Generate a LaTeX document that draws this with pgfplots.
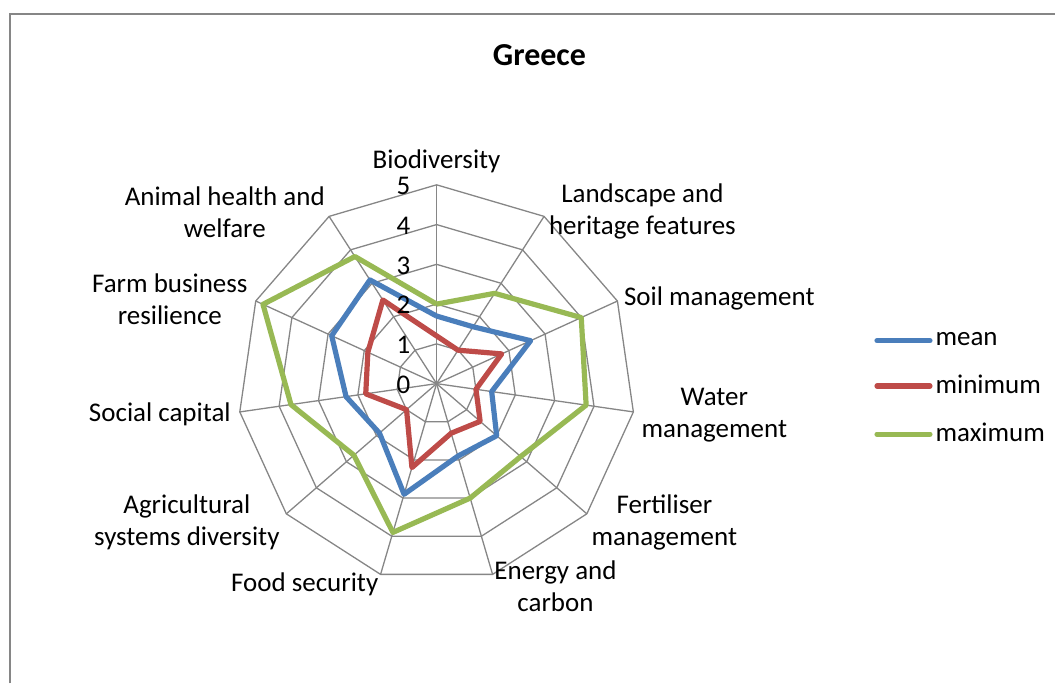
\documentclass[border=0pt]{standalone}
\usepackage{pgfplots}
\pgfplotsset{compat=1.18}
\usepgfplotslibrary{polar}
\usepackage{pgfplotstable}
\usepackage{fontspec}
\setmainfont{Carlito}
\definecolor{cmean}{RGB}{74,126,187}
\definecolor{cmin}{RGB}{190,75,72}
\definecolor{cmax}{RGB}{152,185,84}
\definecolor{cgrid}{RGB}{134,134,134}

\pgfplotstableread{
angle mean min max
90 1.7 1.2 2.0
57.2727 1.7 1.0 2.7
24.5455 2.6 1.8 4.0
351.8182 1.4 1.0 3.8
319.0909 2.0 1.45 2.8
286.3636 1.9 1.3 3.0
253.6364 2.9 2.2 3.9
220.9091 1.9 1.0 2.75
188.1818 2.3 1.8 3.7
155.4545 2.9 1.9 4.8
122.7273 3.1 2.5 3.8
90 1.7 1.2 2.0
}\datatable

\begin{document}
\begin{tikzpicture}[x=0.5pt,y=0.5pt]
\fontsize{13.5}{16}\selectfont
\path (0,0) rectangle (1056,684);
\coordinate (C) at (437,300);
\draw[cgrid, line width=1pt] (10,0) -- (10,670) -- (1056,670);
\node[font=\fontsize{16}{19}\selectfont\bfseries] at (540,629) {Greece};
\begin{polaraxis}[
  at={(C)}, anchor=origin,
  width=199pt, height=199pt, scale only axis,
  ymin=0, ymax=5, xmin=0, xmax=360,
  hide axis, clip=false,
  legend cell align=left,
  legend image code/.code={\draw[#1, line cap=round] (0pt,0pt) -- (26.5pt,0pt);},
  legend style={at={(1.585,0.487)}, anchor=west, draw=none, fill=none,
    font=\fontsize{13.5}{16}\selectfont, row sep=10.75pt,
    nodes={inner xsep=1.5pt, inner ysep=1pt}},
]
\pgfplotsinvokeforeach{1,2,3,4,5}{
 \addplot[cgrid, line width=0.65pt, forget plot] coordinates {(90,#1) (57.2727,#1) (24.5455,#1) (351.8182,#1) (319.0909,#1) (286.3636,#1) (253.6364,#1) (220.9091,#1) (188.1818,#1) (155.4545,#1) (122.7273,#1) (90,#1)};
}
\pgfplotsinvokeforeach{90,57.2727,24.5455,351.8182,319.0909,286.3636,253.6364,220.9091,188.1818,155.4545,122.7273}{
 \addplot[cgrid, line width=0.65pt, forget plot] coordinates {(#1,0) (#1,5)};
}
\addplot[cmean, line width=2.6pt, line join=round, mark=none] table[x=angle,y=mean]{\datatable};
\addlegendentry{mean}
\addplot[cmin, line width=2.6pt, line join=round, mark=none] table[x=angle,y=min]{\datatable};
\addlegendentry{minimum}
\addplot[cmax, line width=2.6pt, line join=round, mark=none] table[x=angle,y=max]{\datatable};
\addlegendentry{maximum}
\end{polaraxis}
\foreach \k in {0,...,5} \node[anchor=east, inner sep=0pt] at (411, 299+39.8*\k) {\k};
\node[align=center] at (437,523) {Biodiversity};
\node[align=center] at (643,472) {Landscape and\\heritage features};
\node at (720,385) {Soil management};
\node[align=center] at (715,268) {Water\\management};
\node[align=center] at (665,161) {Fertiliser\\management};
\node[align=center] at (556,97) {Energy and\\carbon};
\node at (305,99) {Food security};
\node[align=center] at (187,161) {Agricultural\\systems diversity};
\node at (160,269) {Social capital};
\node[align=center] at (170,384) {Farm business\\resilience};
\node[align=center] at (225,472) {Animal health and\\welfare};
\end{tikzpicture}
\end{document}
